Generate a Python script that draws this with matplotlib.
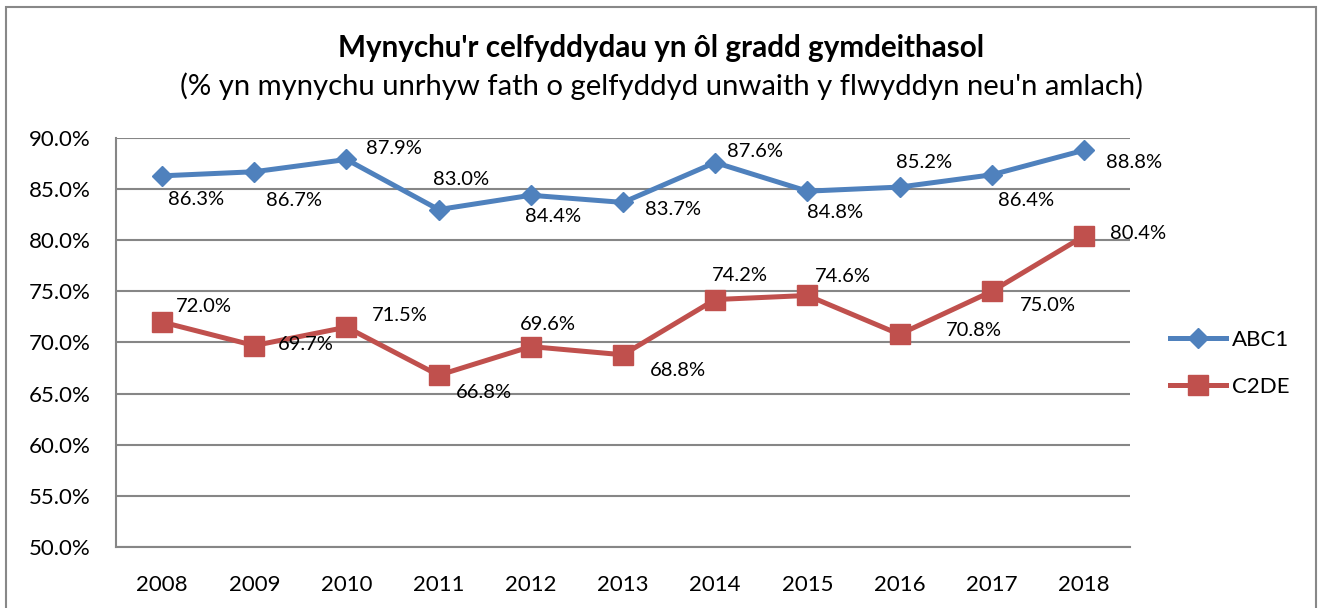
import matplotlib
matplotlib.use('Agg')
import matplotlib.pyplot as plt
from matplotlib.patches import Rectangle
from matplotlib.ticker import FuncFormatter

plt.rcParams['font.family'] = ['Lato', 'DejaVu Sans']

# data
years = ['2008', '2009', '2010', '2011', '2012', '2013', '2014', '2015', '2016', '2017', '2018']
abc1 = [86.3, 86.7, 87.9, 83.0, 84.4, 83.7, 87.6, 84.8, 85.2, 86.4, 88.8]
c2de = [72.0, 69.7, 71.5, 66.8, 69.6, 68.8, 74.2, 74.6, 70.8, 75.0, 80.4]
yticks = [50, 55, 60, 65, 70, 75, 80, 85, 90]

title = "Mynychu'r celfyddydau yn ôl gradd gymdeithasol"
subtitle = "(% yn mynychu unrhyw fath o gelfyddyd unwaith y flwyddyn neu'n amlach)"

# where each data label sits relative to its point, in pixels (dx, dy up)
abc1_off = [(34, -24), (40, -29), (47, 11), (22, 30), (22, -21), (50, -7),
            (40, 11), (28, -21), (25, 25), (34, -26), (50, -12)]
c2de_off = [(42, 16), (52, 1), (53, 12), (45, -17), (17, 22), (55, -16),
            (25, 24), (36, 19), (74, 4), (56, -14), (54, 3)]

blue = '#4F81BD'
red = '#C0504D'
grid_c = '#868686'

fig = plt.figure(figsize=(13.22, 6.08), dpi=100)
ax = fig.add_axes([116 / 1322, 61 / 608, 1014 / 1322, 409 / 608])

x = list(range(len(years)))
ax.plot(x, abc1, color=blue, lw=3.6, marker='D', ms=10, label='ABC1')
ax.plot(x, c2de, color=red, lw=3.6, marker='s', ms=14, label='C2DE')

for xi, v, (dx, dy) in zip(x, abc1, abc1_off):
    ax.annotate(f'{v:.1f}%', (xi, v), xytext=(dx, dy), textcoords='offset pixels',
                ha='center', va='center', fontsize=14.5, color='black')
for xi, v, (dx, dy) in zip(x, c2de, c2de_off):
    ax.annotate(f'{v:.1f}%', (xi, v), xytext=(dx, dy), textcoords='offset pixels',
                ha='center', va='center', fontsize=14.5, color='black')

ax.set_xlim(-0.5, len(years) - 0.5)
ax.set_ylim(50, 90)
ax.set_yticks(yticks)
ax.yaxis.set_major_formatter(FuncFormatter(lambda v, p: f'{v:.1f}%'))
ax.set_xticks(x)
ax.set_xticklabels(years)
ax.tick_params(axis='both', length=0, labelsize=16)
ax.tick_params(axis='y', pad=18)
ax.tick_params(axis='x', pad=20)
ax.grid(axis='y', color=grid_c, lw=1.5)
ax.set_axisbelow(True)
for s in ['top', 'right']:
    ax.spines[s].set_visible(False)
for s in ['left', 'bottom']:
    ax.spines[s].set_color(grid_c)
    ax.spines[s].set_linewidth(1.5)

fig.legend(loc='center left', bbox_to_anchor=(1170 / 1322, 1 - 363.5 / 608), frameon=False,
           fontsize=16, handlelength=2.5, labelspacing=1.2, handletextpad=0.3,
           borderpad=0, borderaxespad=0)

fig.text(0.5, 1 - 57 / 608, title, ha='center', va='baseline', fontsize=21.3, fontweight='bold')
fig.text(0.5, 1 - 95 / 608, subtitle, ha='center', va='baseline', fontsize=21.1)

fig.add_artist(Rectangle((6 / 1322, -0.02), 1310 / 1322, 1.02 - 7 / 608,
                         transform=fig.transFigure, fill=False, ec='#888888', lw=1.5))

fig.savefig('out.png', dpi=100)
